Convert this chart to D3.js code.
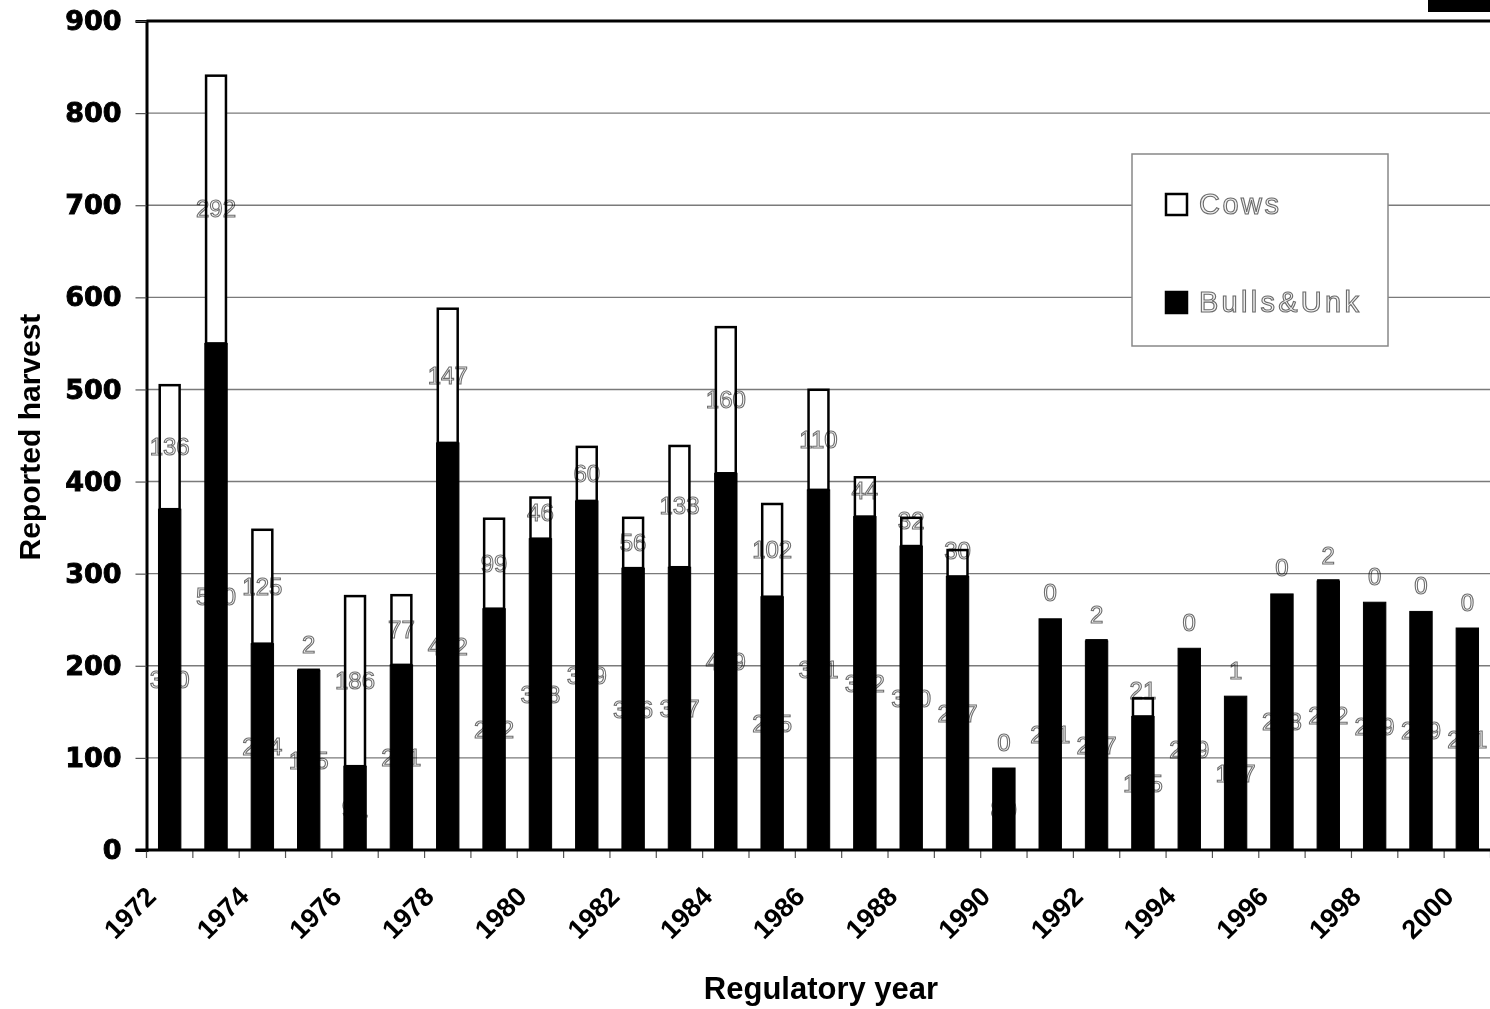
<!DOCTYPE html>
<html>
<head>
<meta charset="utf-8">
<script src="https://cdn.jsdelivr.net/npm/d3@7"></script>
<style>
  html, body { margin: 0; padding: 0; background: #fff; }
  svg { display: block; }
  .vlabels text { mix-blend-mode: multiply; }
</style>
</head>
<body>
<svg id="chart" width="1490" height="1009"></svg>
<script>
// Reported moose harvest by regulatory year, split into cows and bulls & unknown
const years = [1972, 1973, 1974, 1975, 1976, 1977, 1978, 1979, 1980, 1981,
               1982, 1983, 1984, 1985, 1986, 1987, 1988, 1989, 1990, 1991,
               1992, 1993, 1994, 1995, 1996, 1997, 1998, 1999, 2000];
const bulls = [370, 550, 224, 195, 91, 201, 442, 262, 338, 379,
               306, 307, 409, 275, 391, 362, 330, 297, 89, 251,
               227, 145, 219, 167, 278, 292, 269, 259, 241];
const cows  = [136, 292, 125, 2, 186, 77, 147, 99, 46, 60,
               56, 133, 160, 102, 110, 44, 32, 30, 0, 0,
               2, 21, 0, 1, 0, 2, 0, 0, 0];
const yearLabels = ["1972", "1974", "1976", "1978", "1980", "1982", "1984", "1986",
                    "1988", "1990", "1992", "1994", "1996", "1998", "2000"];
const yTicks = [0, 100, 200, 300, 400, 500, 600, 700, 800, 900];
const seriesNames = ["Cows", "Bulls&Unk"];

const rows = years.map((yr, i) => ({ year: yr, bulls: bulls[i], cows: cows[i] }));

const svg = d3.select("#chart");
svg.append("rect").attr("width", 1490).attr("height", 1009).attr("fill", "#fff");

const plotLeft = 146.5, plotRight = 1490.5, plotTop = 21, plotBottom = 850;

const x = d3.scaleBand()
  .domain(years)
  .range([plotLeft, plotRight])
  .paddingInner(0.517)
  .paddingOuter(0.2585);
const y = d3.scaleLinear().domain([0, 900]).range([plotBottom, plotTop]);
const cx = d => x(d) + x.bandwidth() / 2;

// horizontal gridlines
svg.append("g")
  .selectAll("line")
  .data(yTicks.filter(t => t > 0 && t < 900))
  .join("line")
  .attr("x1", plotLeft).attr("x2", plotRight)
  .attr("y1", d => y(d)).attr("y2", d => y(d))
  .attr("stroke", "#7a7a7a").attr("stroke-width", 1.4);

// top border of the plot area
svg.append("line")
  .attr("x1", plotLeft).attr("x2", plotRight)
  .attr("y1", y(900)).attr("y2", y(900))
  .attr("stroke", "#000").attr("stroke-width", 3);

// legend
const lg = svg.append("g");
lg.append("rect")
  .attr("x", 1132).attr("y", 154).attr("width", 256).attr("height", 192)
  .attr("fill", "#fff").attr("stroke", "#888").attr("stroke-width", 1.5);
const legendItems = [
  { name: seriesNames[0], fill: "#fff", ly: 204, len: 80 },
  { name: seriesNames[1], fill: "#000", ly: 302, len: 160 }
];
const li = lg.selectAll("g.item").data(legendItems).join("g").attr("class", "item");
li.append("rect")
  .attr("x", 1166).attr("y", d => d.ly - 10).attr("width", 21).attr("height", 21)
  .attr("fill", d => d.fill).attr("stroke", "#000").attr("stroke-width", 2.5);
li.append("text")
  .attr("x", 1199).attr("y", d => d.ly + 10)
  .attr("font-family", "Liberation Sans, Arial, sans-serif")
  .attr("font-size", 29)
  .attr("textLength", d => d.len)
  .attr("lengthAdjust", "spacing")
  .attr("fill", "#f2f2f2").attr("stroke", "#6a6a6a").attr("stroke-width", 1.1)
  .text(d => d.name);

// stacked bars: bulls & unknown at the bottom, cows on top
const bars = svg.append("g");
bars.selectAll("rect.bulls")
  .data(rows)
  .join("rect")
  .attr("class", "bulls")
  .attr("x", d => x(d.year)).attr("width", x.bandwidth())
  .attr("y", d => y(d.bulls)).attr("height", d => y(0) - y(d.bulls))
  .attr("fill", "#000").attr("stroke", "#000").attr("stroke-width", 1);
bars.selectAll("rect.cows")
  .data(rows.filter(d => d.cows > 0))
  .join("rect")
  .attr("class", "cows")
  .attr("x", d => x(d.year) + 1.25).attr("width", x.bandwidth() - 2.5)
  .attr("y", d => y(d.bulls + d.cows) + 1.25)
  .attr("height", d => Math.max(0, y(d.bulls) - y(d.bulls + d.cows) - 1.25))
  .attr("fill", "#fff").attr("stroke", "#000").attr("stroke-width", 2.5);

// value labels (multiplied, so they vanish over the black segments)
const vl = svg.append("g").attr("class", "vlabels")
  .attr("font-family", "Liberation Sans, Arial, sans-serif")
  .attr("font-size", 24)
  .attr("text-anchor", "middle")
  .attr("dominant-baseline", "central")
  .attr("fill", "#fff").attr("stroke", "#6e6e6e").attr("stroke-width", 1.1);
vl.selectAll("text.b")
  .data(rows)
  .join("text")
  .attr("class", "b")
  .attr("x", d => cx(d.year))
  .attr("y", d => y(d.bulls / 2))
  .text(d => d.bulls);
vl.selectAll("text.c")
  .data(rows)
  .join("text")
  .attr("class", "c")
  .attr("x", d => cx(d.year))
  .attr("y", d => Math.min(y(d.bulls + d.cows / 2), y(d.bulls) - 26))
  .text(d => d.cows);

// y axis
const yAxis = d3.axisLeft(y).tickValues(yTicks).tickSize(11).tickPadding(14);
const gy = svg.append("g").attr("transform", `translate(${plotLeft},0)`).call(yAxis);
gy.select(".domain").attr("stroke", "#000").attr("stroke-width", 3);
gy.selectAll(".tick line").attr("stroke", "#555").attr("stroke-width", 1.2);
gy.selectAll(".tick text")
  .attr("font-family", "DejaVu Sans, sans-serif")
  .attr("font-weight", "bold")
  .attr("font-size", 27)
  .attr("fill", "#000")
  .attr("stroke", "#000").attr("stroke-width", 0.9);

// x axis line and category boundary ticks
const boundaries = years.map(yr => cx(yr) - x.step() / 2).concat([cx(years[years.length - 1]) + x.step() / 2]);
svg.append("g")
  .selectAll("line")
  .data(boundaries)
  .join("line")
  .attr("x1", d => d).attr("x2", d => d)
  .attr("y1", plotBottom).attr("y2", plotBottom + 8)
  .attr("stroke", "#555").attr("stroke-width", 1.2);
svg.append("line")
  .attr("x1", plotLeft - 11).attr("x2", plotRight)
  .attr("y1", plotBottom).attr("y2", plotBottom)
  .attr("stroke", "#000").attr("stroke-width", 3);

// rotated year labels
svg.append("g")
  .selectAll("text")
  .data(yearLabels)
  .join("text")
  .attr("transform", d => `translate(${cx(+d) - 12},${plotBottom + 48}) rotate(-45)`)
  .attr("text-anchor", "end")
  .attr("font-family", "Liberation Sans, Arial, sans-serif")
  .attr("font-weight", "bold")
  .attr("font-size", 27)
  .attr("fill", "#000")
  .text(d => d);

// axis titles
svg.append("text")
  .attr("x", 821).attr("y", 999)
  .attr("text-anchor", "middle")
  .attr("font-family", "Liberation Sans, Arial, sans-serif")
  .attr("font-weight", "bold")
  .attr("font-size", 31)
  .attr("fill", "#000")
  .text("Regulatory year");
svg.append("text")
  .attr("transform", "translate(40,437) rotate(-90)")
  .attr("text-anchor", "middle")
  .attr("font-family", "Liberation Sans, Arial, sans-serif")
  .attr("font-weight", "bold")
  .attr("font-size", 30)
  .attr("fill", "#000")
  .text("Reported harvest");

// dark block at the upper right corner
svg.append("rect")
  .attr("x", 1428).attr("y", 0).attr("width", 62).attr("height", 12)
  .attr("fill", "#000");
</script>
</body>
</html>
